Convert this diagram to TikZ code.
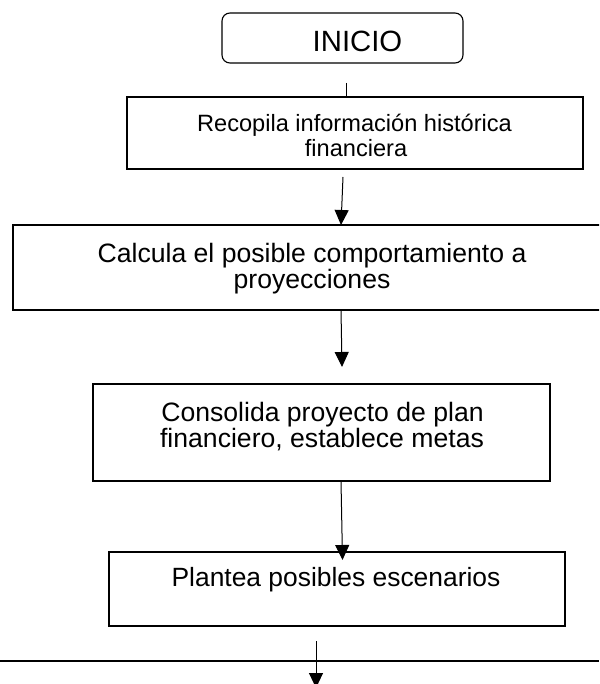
\documentclass[tikz,border=0pt]{standalone}
\usepackage{fontspec}
\setmainfont{Liberation Sans}
\usetikzlibrary{arrows.meta}
\begin{document}
\begin{tikzpicture}[x=1pt,y=-1pt,
  box/.style={draw, line width=1.5pt, inner sep=0pt, outer sep=0pt},
  arr/.style={-{Triangle[width=14pt,length=15pt]}, line width=1pt},
  txt/.style={anchor=base, inner sep=0pt, outer sep=0pt}]
\useasboundingbox (0,0) rectangle (599,684);
\clip (0,0) rectangle (599,684);
% boxes
\node[draw, rounded corners=8pt, line width=1.1pt, inner sep=0pt,
      minimum width=241pt, minimum height=50pt] (inicio) at (342.5,38) {};
\node[box, minimum width=456pt, minimum height=72pt] (recopila) at (355,133) {};
\node[box, minimum width=594pt, minimum height=85pt] (calcula) at (310,267.5) {};
\node[box, minimum width=457pt, minimum height=97pt] (consolida) at (321.5,432.5) {};
\node[box, minimum width=456pt, minimum height=74pt] (plantea) at (337,589) {};
% texts
\node[txt, font=\fontsize{29.3}{30}\selectfont] (tinicio) at (357.5,52) {INICIO};
\node[txt, font=\fontsize{23.6}{26}\selectfont] (trec1) at (354.5,132) {Recopila información histórica};
\node[txt, font=\fontsize{23.6}{26}\selectfont] (trec2) at (356,157) {financiera};
\node[txt, font=\fontsize{26.6}{28}\selectfont] (tcal1) at (312,262) {Calcula el posible comportamiento a};
\node[txt, font=\fontsize{26.6}{28}\selectfont] (tcal2) at (312,288) {proyecciones};
\node[txt, font=\fontsize{26.6}{28}\selectfont] (tcon1) at (322.5,421) {Consolida proyecto de plan};
\node[txt, font=\fontsize{26.6}{28}\selectfont] (tcon2) at (322,447) {financiero, establece metas};
\node[txt, font=\fontsize{26.4}{28}\selectfont] (tpla) at (336,586) {Plantea posibles escenarios};
% connectors
\coordinate (l0) at (346,83);
\draw[line width=1pt] (l0) -- (l0 |- recopila.north);
\coordinate (a1s) at (343,177);
\coordinate (a1e) at (341,225);
\draw[arr] (a1s) -- (a1e);
\coordinate (a2s) at (341,310);
\coordinate (a2e) at (342,367);
\draw[arr] (a2s |- calcula.south) -- (a2e);
\coordinate (a3s) at (341,481);
\coordinate (a3e) at (342.5,560);
\draw[arr] (a3s |- consolida.south) -- (a3e);
\coordinate (hl) at (0,661);
\coordinate (hr) at (599,661);
\draw[line width=2.2pt] (hl) -- (hr);
\coordinate (a4s) at (316,641);
\coordinate (a4e) at (316,688);
\draw[arr] (a4s) -- (a4e);
\end{tikzpicture}
\end{document}
